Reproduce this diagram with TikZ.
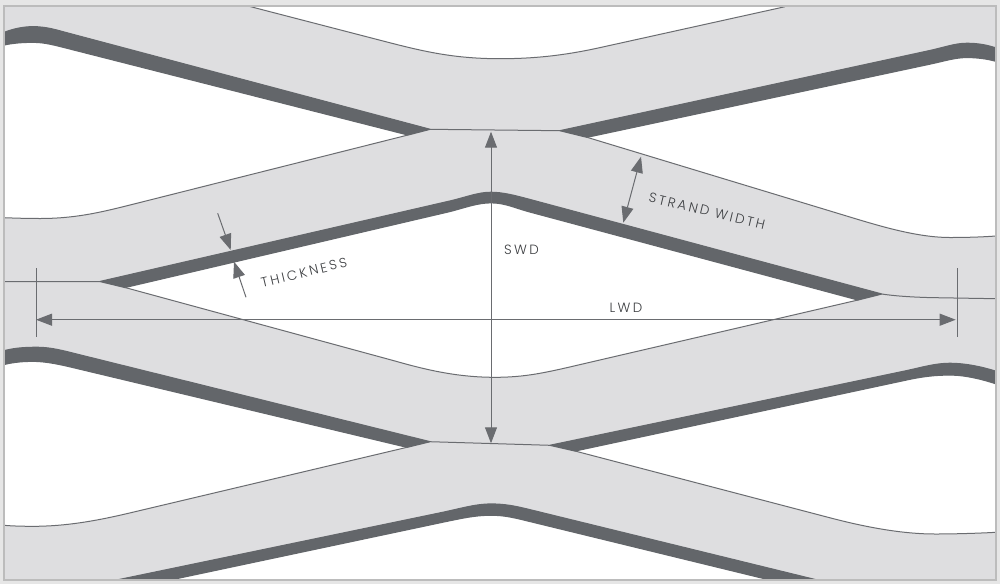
\documentclass[tikz,border=0pt]{standalone}
\usepackage{fontspec}
\setmainfont[LetterSpace=18]{Poppins Light}
\usetikzlibrary{arrows.meta}
\definecolor{mesh}{HTML}{DEDEE0}
\definecolor{band}{HTML}{63666A}
\definecolor{edgec}{HTML}{6A6C70}
\definecolor{outer}{HTML}{E6E6E6}
\definecolor{framec}{HTML}{BCBCBC}
\definecolor{labelc}{HTML}{3C3E41}
\tikzset{
  holefill/.style={fill=white,draw=none},
  bandfill/.style={fill=band,draw=band,line width=1.2pt,line join=round},
  edgeline/.style={draw=edgec,line width=1pt},
  dimline/.style={draw=edgec,line width=1pt},
  dimarrow/.style={dimline,-{Triangle[length=16pt,width=12pt,color=edgec]}},
  dimboth/.style={dimline,{Triangle[length=16pt,width=12pt,color=edgec]}-{Triangle[length=16pt,width=12pt,color=edgec]}},
  dimlabel/.style={text=labelc,font=\fontsize{13.4}{14}\selectfont,inner sep=0pt},
}
% lower edges of the dark bands, shared by the openings and the bands
\def\lowA{(4,45) .. controls (14,42.8) and (24,42.3) .. (33,42.3) .. controls (45,42.3) and (55,45.2) .. (70,49) -- (408,135)}
\def\lowB{(587,137.3) -- (930,64.1) .. controls (945,60.9) and (955,57.5) .. (967,57.5) .. controls (977,57.5) and (987,58.8) .. (996,61.3)}
\def\lowC{(125,287.5) -- (450,211.5) .. controls (467,207) and (478,202.8) .. (491,202.8) .. controls (505,202.8) and (515,208) .. (530,212) -- (858,300)}
\def\lowD{(4,364.5) .. controls (14,362) and (24,361.3) .. (33,361.3) .. controls (45,361.3) and (58,364) .. (70,366.8) -- (407,447.3)}
\def\lowE{(575,451) -- (905,380.3) .. controls (922,376.5) and (935,375) .. (950,375) .. controls (965,375) and (982,379.2) .. (996,383.8)}
\def\lowF{(170,580) -- (445,521.7) .. controls (462,518.2) and (475,515.2) .. (491,515.2) .. controls (505,515.2) and (515,517.8) .. (530,521.5) -- (770,580)}
% thin edges of the openings
\def\thinA{(248,6) -- (385,41.5) .. controls (425,51.9) and (455,58.7) .. (500,58.7) .. controls (535,58.7) and (565,55.3) .. (600,47.6) -- (785,6.7)}
\def\thinB{(408,135) -- (130,205) .. controls (100,212.5) and (75,218.5) .. (40,218.5) .. controls (25,218.5) and (12,218) .. (4,217.7)}
\def\thinC{(587,137.3) -- (840,214) .. controls (875,224.6) and (915,237.5) .. (950,237.5) .. controls (970,237.5) and (985,236.8) .. (996,236)}
\def\thinD{(125,287.5) -- (395,361) .. controls (430,371) and (460,377.3) .. (495,377.3) .. controls (525,377.3) and (545,372.8) .. (580,364.6) -- (858,300)}
\def\thinE{(407,447.3) -- (130,512.9) .. controls (95,521.2) and (65,526.3) .. (33,526.3) .. controls (22,526.3) and (12,526) .. (4,525.3)}
\def\thinF{(575,451) -- (830,517.8) .. controls (870,528.3) and (905,534) .. (935,534) .. controls (955,534) and (980,533.2) .. (996,532.3)}
\begin{document}
\begin{tikzpicture}[x=1pt,y=-1pt]
\useasboundingbox (0,0) rectangle (1000,584);
\fill[outer] (0,0) rectangle (1000,584);
\fill[mesh] (4,6) rectangle (996,580);
\begin{scope}
\clip (4,6) rectangle (996,580);
% white openings
\path[holefill] \thinA -- cycle;
\path[holefill] \lowA -- (130,205) .. controls (100,212.5) and (75,218.5) .. (40,218.5) .. controls (25,218.5) and (12,218) .. (4,217.7) -- cycle;
\path[holefill] \lowB -- (996,236) .. controls (985,236.8) and (970,237.5) .. (950,237.5) .. controls (915,237.5) and (875,224.6) .. (840,214) -- cycle;
\path[holefill] \lowC -- (580,364.6) .. controls (545,372.8) and (525,377.3) .. (495,377.3) .. controls (460,377.3) and (430,371) .. (395,361) -- cycle;
\path[holefill] \lowD -- (130,512.9) .. controls (95,521.2) and (65,526.3) .. (33,526.3) .. controls (22,526.3) and (12,526) .. (4,525.3) -- cycle;
\path[holefill] \lowE -- (996,532.3) .. controls (980,533.2) and (955,534) .. (935,534) .. controls (905,534) and (870,528.3) .. (830,517.8) -- cycle;
\path[holefill] \lowF -- cycle;
% dark bands
\path[bandfill] \lowA -- (430,129.3) -- (70,33.6) .. controls (57,30.2) and (47,26.7) .. (33,26.7) .. controls (24,26.7) and (14,28.5) .. (4,32.5) -- cycle;
\path[bandfill] \lowB -- (996,48) .. controls (987,45) and (978,43.3) .. (967,43.3) .. controls (955,43.3) and (945,47.2) .. (930,50.5) -- (560,130.7) -- cycle;
\path[bandfill] \lowC -- (881.7,294) -- (530,199.5) .. controls (515,195.5) and (503,192.3) .. (491,192.3) .. controls (478,192.3) and (467,197) .. (450,201) -- (100,281.5) -- cycle;
\path[bandfill] \lowD -- (430,441.7) -- (70,352.4) .. controls (58,349.4) and (48,347.3) .. (37,347.3) .. controls (25,347.3) and (14,348) .. (4,350.8) -- cycle;
\path[bandfill] \lowE -- (996,371.3) .. controls (982,366.8) and (965,363.3) .. (950,363.3) .. controls (935,363.3) and (922,367.4) .. (905,371) -- (550,445.3) -- cycle;
\path[bandfill] \lowF -- (817,580) -- (530,509.7) .. controls (515,506) and (505,504) .. (491,504) .. controls (475,504) and (460,508.8) .. (440,512.9) -- (117,580) -- cycle;
% thin outlines
\draw[edgeline] \thinA;
\draw[edgeline] \thinB;
\draw[edgeline] \thinC;
\draw[edgeline] \thinD;
\draw[edgeline] \thinE;
\draw[edgeline] \thinF;
\draw[edgeline] (430,129.3) -- (560,130.7);
\draw[edgeline] (430,441.7) -- (550,445.3);
\draw[edgeline] (4,281.7) -- (100,281.5);
\draw[edgeline] (881.7,294) .. controls (895,296) and (910,297) .. (930,297.6) -- (996,298.7);
\end{scope}
\draw[framec,line width=1.4pt] (4,6) rectangle (996,580);
% dimension anchors
\coordinate (swdTop) at (491,131.7);
\coordinate (swdBot) at (491,443.3);
\coordinate (lwdL) at (36,319.7);
\coordinate (lwdR) at (955.7,319.7);
\coordinate (extLa) at (36,268);
\coordinate (extLb) at (36,337);
\coordinate (extRa) at (957.3,268);
\coordinate (extRb) at (957.3,337);
\coordinate (thkA) at (217.7,213.3);
\coordinate (thkB) at (230.7,250);
\coordinate (thkC) at (246,297.3);
\coordinate (thkD) at (234,261.7);
\coordinate (strA) at (641,156.7);
\coordinate (strB) at (623.3,222.7);
\draw[dimboth] (swdTop) -- (swdBot);
\draw[dimboth] (lwdL) -- (lwdR);
\draw[dimline] (extLa) -- (extLb);
\draw[dimline] (extRa) -- (extRb);
\draw[dimarrow] (thkA) -- (thkB);
\draw[dimarrow] (thkC) -- (thkD);
\draw[dimboth] (strA) -- (strB);
% labels
\node[dimlabel] (lblSwd) at (521.5,249.5) {SWD};
\node[dimlabel] (lblLwd) at (626,307.5) {LWD};
\node[dimlabel,rotate=-13.5] (lblStr) at (707,211) {STRAND WIDTH};
\node[dimlabel,rotate=13.5] (lblThk) at (304,272.5) {THICKNESS};
\end{tikzpicture}
\end{document}
